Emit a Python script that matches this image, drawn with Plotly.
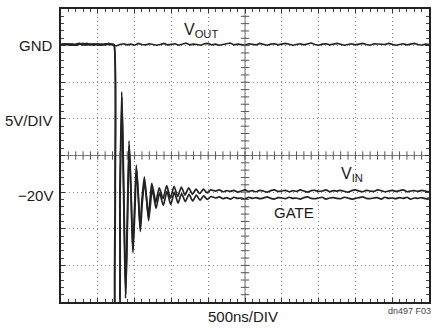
import plotly.graph_objects as go

# ---------------- data (time in ns, voltage in V) ----------------
X_RANGE = [0, 5000]          # 10 div x 500 ns
Y_RANGE = [-35, 5]           # 8 div x 5 V, GND one div below top
X_DIV = 500
Y_DIV = 5

vout_t = list(range(0, 5001, 50))
vout_v = [0.20,0.10,0.25,0.15,0.05,0.20,0.30,0.10,0.15,0.25,
          0.05,0.20,0.15,0.30,0.10,-0.05,0.15,0.25,0.10,0.20,
          0.05,0.30,0.15,0.10,0.25,0.20,0.05,0.15,0.30,0.10,
          0.20,0.25,0.05,0.15,0.35,0.10,0.20,0.15,0.05,0.25,
          0.30,0.10,0.20,0.05,0.15,0.25,0.35,0.10,0.20,0.15,
          0.05,0.25,0.20,0.10,0.30,0.15,0.05,0.20,0.25,0.10,
          0.15,0.30,0.20,0.05,0.15,0.25,0.10,0.20,0.35,0.15,
          0.05,0.20,0.25,0.10,0.15,0.30,0.20,0.05,0.15,0.25,
          0.10,0.20,0.30,0.15,0.05,0.25,0.20,0.10,0.15,0.30,
          0.20,0.05,0.15,0.25,0.10,0.20,0.30,0.15,0.05,0.20,
          0.15]

pre_t = list(range(0, 701, 50))
post_t = list(range(2100, 5001, 50))

vin_pre = [0.15,0.20,0.10,0.25,0.05,0.20,0.15,0.30,0.10,0.20,0.15,0.05,0.25,0.15,0.20]
vin_ring_t = [720,735,748,775,800,825,850,877,900,924,950,974,1000,1023,1050,1074,1100,
              1132,1160,1186,1210,1233,1260,1287,1310,1336,1386,1436,1486,1536,1586,
              1635,1685,1735,1785,1835,1885,1934,1984,2034]
vin_ring_v = [0.1,-20,-40,-40,-20,-6.3,-20,-34.5,-24,-13.0,-20,-27.9,-22,-16.3,-20.5,-24.9,-21,
              -17.9,-20.5,-23.2,-21,-18.8,-20,-21.4,-20.4,-19.4,-20.9,-19.1,-20.8,-19.2,-20.6,
              -19.3,-20.4,-19.4,-20.3,-19.6,-20.2,-19.6,-20.1,-19.7]
vin_post = [-19.85,-19.70,-19.95,-19.80,-19.90,-19.75,-20.00,-19.85,-19.70,-19.90,
            -19.80,-19.95,-19.75,-19.85,-20.00,-19.80,-19.70,-19.90,-19.85,-19.75,
            -19.95,-19.80,-19.90,-19.70,-19.85,-20.00,-19.80,-19.75,-19.90,-19.85,
            -19.70,-19.95,-19.80,-19.85,-19.75,-19.90,-20.00,-19.80,-19.70,-19.85,
            -19.95,-19.75,-19.85,-19.90,-19.70,-19.80,-19.95,-19.85,-19.75,-19.90,
            -19.80,-19.70,-19.95,-19.85,-19.80,-19.90,-19.75,-19.85,-19.95]

gate_pre = [0.10,0.25,0.15,0.05,0.20,0.30,0.10,0.15,0.20,0.05,0.25,0.15,0.10,0.20,0.15]
gate_ring_t = [722,738,752,779,804,829,854,880,904,928,954,978,1004,1027,1054,1078,1104,
               1136,1164,1190,1214,1237,1264,1291,1314,1340,1390,1440,1490,1540,1590,
               1639,1689,1739,1789,1839,1889,1938,1988,2038]
gate_ring_v = [0.1,-20,-40,-40,-20,-7.0,-20,-34.0,-24,-13.6,-20.5,-28.3,-22.5,-16.9,-21,-25.4,-21.5,
               -18.6,-21.2,-23.9,-21.8,-19.6,-20.8,-22.2,-21.2,-20.1,-21.8,-19.9,-21.7,-20.0,-21.5,
               -20.2,-21.3,-20.3,-21.2,-20.4,-21.1,-20.5,-21.0,-20.6]
gate_post = [-20.80,-20.65,-20.90,-20.75,-20.95,-20.70,-20.85,-20.80,-20.95,-20.70,
             -20.85,-20.75,-20.90,-20.80,-20.65,-20.85,-20.95,-20.75,-20.80,-20.90,
             -20.70,-20.85,-20.80,-20.95,-20.75,-20.65,-20.85,-20.90,-20.80,-20.70,
             -20.95,-20.80,-20.75,-20.85,-20.90,-20.70,-20.80,-20.95,-20.85,-20.75,
             -20.65,-20.85,-20.90,-20.80,-20.75,-20.95,-20.70,-20.85,-20.80,-20.90,
             -20.75,-20.85,-20.70,-20.95,-20.80,-20.85,-20.75,-20.90,-20.80]

labels_left = [("GND", 0.0), ("5V/DIV", -10.2), ("\u221220V", -20.4)]

# ---------------- figure ----------------
FONT = "Liberation Sans, Arial, Helvetica, sans-serif"
TRACE = "#222222"
TXT = "#1a1a1a"

fig = go.Figure()

line_style = dict(color=TRACE, width=1.7, shape="spline", smoothing=0.6)
fig.add_trace(go.Scatter(x=pre_t + vin_ring_t + post_t, y=vin_pre + vin_ring_v + vin_post,
                         mode="lines", line=line_style, name="VIN"))
fig.add_trace(go.Scatter(x=pre_t + gate_ring_t + post_t, y=gate_pre + gate_ring_v + gate_post,
                         mode="lines", line=line_style, name="GATE"))
fig.add_trace(go.Scatter(x=vout_t, y=vout_v, mode="lines",
                         line=dict(color=TRACE, width=1.6), name="VOUT"))

# centre cross-hair with minor tick marks
xc = (X_RANGE[0] + X_RANGE[1]) / 2
yc = (Y_RANGE[0] + Y_RANGE[1]) / 2
fig.add_shape(type="line", x0=X_RANGE[0], x1=X_RANGE[1], y0=yc, y1=yc,
              line=dict(color="#777", width=1), layer="below")
fig.add_shape(type="line", x0=xc, x1=xc, y0=Y_RANGE[0], y1=Y_RANGE[1],
              line=dict(color="#777", width=1), layer="below")
xm = [X_RANGE[0] + i * X_DIV / 5 for i in range(1, 50)]
ym = [Y_RANGE[0] + i * Y_DIV / 5 for i in range(1, 40)]
fig.add_trace(go.Scatter(x=xm, y=[yc] * len(xm), mode="markers", hoverinfo="skip",
                         marker=dict(symbol="line-ns", size=6, line=dict(color="#555", width=1))))
fig.add_trace(go.Scatter(x=[xc] * len(ym), y=ym, mode="markers", hoverinfo="skip",
                         marker=dict(symbol="line-ew", size=6, line=dict(color="#555", width=1))))

axis_common = dict(showline=True, linewidth=2, linecolor="#222", mirror="allticks",
                   ticks="inside", ticklen=4, tickcolor="#333", showticklabels=False,
                   showgrid=True, gridcolor="#8a8a8a", gridwidth=1, griddash="1px,3px",
                   zeroline=False, fixedrange=True)
fig.update_xaxes(range=X_RANGE, dtick=X_DIV, tick0=0,
                 minor=dict(dtick=X_DIV / 5, ticks="inside", ticklen=3, tickcolor="#444", showgrid=False),
                 **axis_common)
fig.update_yaxes(range=Y_RANGE, dtick=Y_DIV, tick0=0,
                 minor=dict(dtick=Y_DIV / 5, ticks="inside", ticklen=3, tickcolor="#444", showgrid=False),
                 **axis_common)

ann = []
for txt, yv in labels_left:
    ann.append(dict(text=txt, xref="paper", x=0, xanchor="right", xshift=-6,
                    yref="y", y=yv, yanchor="middle", showarrow=False,
                    font=dict(family=FONT, size=15, color=TXT)))
ann.append(dict(text="V<sub>OUT</sub>", xref="x", x=1640, xanchor="left", yref="y", y=2.0,
                yanchor="middle", showarrow=False, font=dict(family=FONT, size=16, color=TXT)))
ann.append(dict(text="V<sub>IN</sub>", xref="x", x=3775, xanchor="left", yref="y", y=-17.6,
                yanchor="middle", showarrow=False, font=dict(family=FONT, size=16, color=TXT)))
ann.append(dict(text="GATE", xref="x", x=2860, xanchor="left", yref="y", y=-22.8,
                yanchor="middle", showarrow=False, font=dict(family=FONT, size=15, color=TXT)))
ann.append(dict(text="500ns/DIV", xref="paper", x=0.5, xanchor="center", xshift=-2,
                yref="paper", y=0, yanchor="top", yshift=-4, showarrow=False,
                font=dict(family=FONT, size=15, color=TXT)))
ann.append(dict(text="dn497 F03", xref="paper", x=1, xanchor="right", xshift=4,
                yref="paper", y=0, yanchor="top", yshift=-2, showarrow=False,
                font=dict(family=FONT, size=9, color="#444")))

fig.update_layout(width=439, height=328, margin=dict(l=61, r=10, t=7, b=26),
                  paper_bgcolor="white", plot_bgcolor="white", showlegend=False,
                  hovermode=False, annotations=ann)

fig.write_html("out.html")
